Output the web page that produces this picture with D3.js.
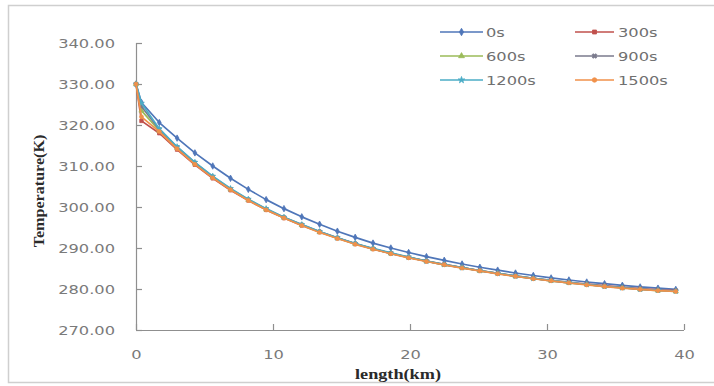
<!DOCTYPE html>
<html>
<head>
<meta charset="utf-8">
<script src="https://cdn.jsdelivr.net/npm/d3@7"></script>
<style>
  html, body { margin: 0; padding: 0; background: #fff; }
  svg { display: block; }
</style>
</head>
<body>
<svg id="chart" width="714" height="386"></svg>
<script>
// Distance along the line (km)
const lengthKm = [0, 0.4, 1.7, 3.0, 4.3, 5.6, 6.9, 8.2, 9.5, 10.8, 12.1, 13.4, 14.7, 16.0, 17.3, 18.6,
  19.9, 21.2, 22.5, 23.8, 25.1, 26.4, 27.7, 29.0, 30.3, 31.6, 32.9, 34.2, 35.5, 36.8, 38.1, 39.4];

// Temperature profiles (K) at each time
const t0s = [330, 325.5, 320.6, 316.8, 313.2, 310.0, 307.0, 304.3, 301.8, 299.6, 297.6, 295.8, 294.1, 292.6, 291.2, 290.0,
  288.9, 287.9, 287.0, 286.1, 285.3, 284.6, 283.9, 283.3, 282.7, 282.2, 281.7, 281.3, 280.9, 280.5, 280.2, 279.9];
const t300s = [330, 321.0, 318.0, 314.0, 310.3, 307.0, 304.1, 301.6, 299.3, 297.3, 295.5, 293.9, 292.4, 291.0, 289.8, 288.7,
  287.7, 286.8, 286.0, 285.2, 284.5, 283.8, 283.2, 282.6, 282.1, 281.6, 281.2, 280.8, 280.4, 280.1, 279.8, 279.6];
const t600s = [330, 323.5, 318.6, 314.4, 310.6, 307.3, 304.3, 301.7, 299.4, 297.4, 295.6, 293.9, 292.4, 291.0, 289.8, 288.7,
  287.7, 286.8, 285.9, 285.2, 284.4, 283.8, 283.1, 282.6, 282.0, 281.5, 281.1, 280.6, 280.3, 279.9, 279.6, 279.4];
const t900s = [330, 324.5, 318.9, 314.6, 310.8, 307.4, 304.4, 301.8, 299.5, 297.5, 295.7, 294.0, 292.5, 291.1, 289.8, 288.7,
  287.7, 286.8, 285.9, 285.2, 284.4, 283.8, 283.1, 282.6, 282.0, 281.5, 281.1, 280.6, 280.3, 279.9, 279.7, 279.5];
const t1200s = [330, 325.3, 319.1, 314.7, 310.9, 307.5, 304.5, 301.9, 299.6, 297.5, 295.7, 294.0, 292.5, 291.1, 289.9, 288.8,
  287.8, 286.8, 286.0, 285.2, 284.5, 283.8, 283.2, 282.6, 282.1, 281.6, 281.1, 280.7, 280.3, 280.0, 279.7, 279.5];
const t1500s = [330, 322.0, 318.4, 314.2, 310.4, 307.1, 304.2, 301.6, 299.3, 297.3, 295.5, 293.8, 292.3, 290.9, 289.7, 288.6,
  287.6, 286.7, 285.9, 285.1, 284.4, 283.7, 283.1, 282.5, 282.0, 281.5, 281.0, 280.6, 280.2, 279.9, 279.6, 279.4];

const seriesNames = ["0s", "300s", "600s", "900s", "1200s", "1500s"];
const seriesValues = [t0s, t300s, t600s, t900s, t1200s, t1500s];

const xTicks = [0, 10, 20, 30, 40];
const yTicks = [270, 280, 290, 300, 310, 320, 330, 340];

const colors = ["#4f76b9", "#c0504d", "#9bbb59", "#7a7a8c", "#4bacc6", "#f0914a"];
const symbols = [d3.symbolDiamond, d3.symbolSquare, d3.symbolTriangle, d3.symbolCross, d3.symbolStar, d3.symbolCircle];
const symbolSizes = [12, 12, 11, 10, 10, 12];

const svg = d3.select("#chart");

// Widen text horizontally, the way the axis labels are drawn
function widen(sel, k) {
  sel.each(function () {
    const w = this.getComputedTextLength();
    d3.select(this).attr("textLength", w * k).attr("lengthAdjust", "spacingAndGlyphs");
  });
}

// Chart frame
svg.append("rect")
  .attr("x", 8.5).attr("y", 5.5).attr("width", 720).attr("height", 377)
  .attr("fill", "none").attr("stroke", "#cfcfcf").attr("stroke-width", 1.5);

const x = d3.scaleLinear().domain([0, 40]).range([136, 684]);
const y = d3.scaleLinear().domain([270, 340]).range([330, 43]);

const axisColor = "#8f8f8f";
const labelFont = "'DejaVu Sans', sans-serif";
const labelColor = "#7a7a7a";

// Y axis with inward ticks
const yAxis = svg.append("g").attr("transform", `translate(${x(0)},0)`)
  .call(d3.axisLeft(y).tickValues(yTicks).tickSize(-6).tickPadding(21).tickFormat(d3.format(".2f")));
yAxis.select(".domain").attr("stroke", axisColor).attr("stroke-width", 1.2).attr("d", `M0.5,${y(340)}V${y(270)}`);
yAxis.selectAll(".tick line").attr("stroke", axisColor).attr("stroke-width", 1.2);
yAxis.selectAll(".tick text").attr("fill", labelColor).style("font-family", labelFont).style("font-size", "13px")
  .call(widen, 1.25);

// X axis with inward ticks
const xAxis = svg.append("g").attr("transform", `translate(0,${y(270)})`)
  .call(d3.axisBottom(x).tickValues(xTicks).tickSize(-6).tickPadding(20));
xAxis.select(".domain").attr("stroke", axisColor).attr("stroke-width", 1.2).attr("d", `M${x(0)},0.5H${x(40)}`);
xAxis.selectAll(".tick line").attr("stroke", axisColor).attr("stroke-width", 1.2);
xAxis.selectAll(".tick text").attr("fill", labelColor).style("font-family", labelFont).style("font-size", "13px")
  .call(widen, 1.25);

// Axis titles
svg.append("text")
  .attr("x", 398).attr("y", 379).attr("text-anchor", "middle")
  .style("font-family", "'Liberation Serif', serif").style("font-weight", "bold").style("font-size", "14px")
  .attr("fill", "#2a2a2a").text("length(km)").call(widen, 1.3);

svg.append("text")
  .attr("transform", "translate(44,191) rotate(-90)").attr("text-anchor", "middle")
  .style("font-family", "'Liberation Serif', serif").style("font-weight", "bold").style("font-size", "14px")
  .attr("fill", "#2a2a2a").text("Temperature(K)").call(widen, 1.15);

// Series lines and markers
const line = d3.line().x((d, i) => x(lengthKm[i])).y(d => y(d));

seriesValues.forEach((vals, s) => {
  const g = svg.append("g");
  g.append("path").datum(vals)
    .attr("d", line).attr("fill", "none")
    .attr("stroke", colors[s]).attr("stroke-width", 1.7).attr("stroke-linejoin", "round");
  g.selectAll("path.mk").data(vals).join("path")
    .attr("class", "mk")
    .attr("transform", (d, i) => `translate(${x(lengthKm[i])},${y(d)})${s === 3 ? " rotate(45)" : ""}`)
    .attr("d", d3.symbol().type(symbols[s]).size(symbolSizes[s]))
    .attr("fill", colors[s]).attr("stroke", colors[s]).attr("stroke-width", 0.8);
});

// Legend: three rows, two columns
const legendCols = [{ x0: 440, x1: 483, tx: 486 }, { x0: 575, x1: 614, tx: 618 }];
const legendRows = [32, 56, 80];
seriesNames.forEach((name, s) => {
  const col = legendCols[s % 2];
  const ry = legendRows[Math.floor(s / 2)];
  const g = svg.append("g");
  g.append("line").attr("x1", col.x0).attr("x2", col.x1).attr("y1", ry).attr("y2", ry)
    .attr("stroke", colors[s]).attr("stroke-width", 1.7);
  g.append("path")
    .attr("transform", `translate(${(col.x0 + col.x1) / 2},${ry})${s === 3 ? " rotate(45)" : ""}`)
    .attr("d", d3.symbol().type(symbols[s]).size(symbolSizes[s] + 4))
    .attr("fill", colors[s]).attr("stroke", colors[s]).attr("stroke-width", 0.8);
  g.append("text").attr("x", col.tx).attr("y", ry).attr("dy", "0.35em")
    .style("font-family", labelFont).style("font-size", "13px").attr("fill", "#707070")
    .text(name).call(widen, 1.25);
});
</script>
</body>
</html>
